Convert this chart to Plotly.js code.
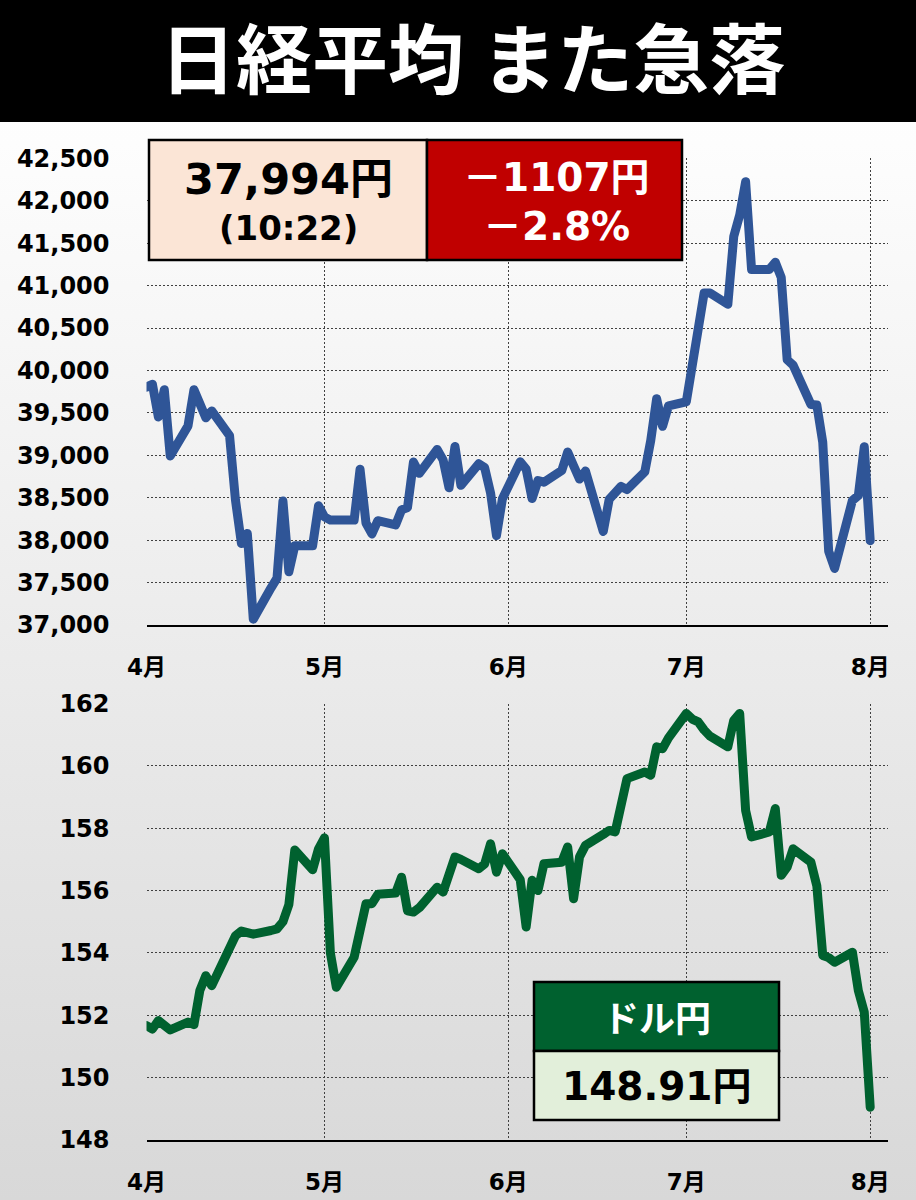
<!DOCTYPE html>
<html><head><meta charset="utf-8">
<script src="https://cdn.plot.ly/plotly-3.0.1.min.js"></script>
<style>
html,body{margin:0;padding:0;}
body{width:916px;height:1200px;background:linear-gradient(to bottom,#ffffff 0%,#fdfdfd 12%,#d8d8d8 100%);}
#chart{width:916px;height:1200px;}
.scatterlayer path.js-line{stroke-linejoin:round;stroke-linecap:round;}
</style></head><body><div id="chart"></div>
<script>
// Weekday dates (Japanese holidays carry the previous Nikkei close)
const dates = [
'2024-04-01','2024-04-02','2024-04-03','2024-04-04','2024-04-05','2024-04-08','2024-04-09','2024-04-10','2024-04-11','2024-04-12',
'2024-04-15','2024-04-16','2024-04-17','2024-04-18','2024-04-19','2024-04-22','2024-04-23','2024-04-24','2024-04-25','2024-04-26',
'2024-04-29','2024-04-30',
'2024-05-01','2024-05-02','2024-05-03','2024-05-06','2024-05-07','2024-05-08','2024-05-09','2024-05-10','2024-05-13','2024-05-14',
'2024-05-15','2024-05-16','2024-05-17','2024-05-20','2024-05-21','2024-05-22','2024-05-23','2024-05-24','2024-05-27','2024-05-28',
'2024-05-29','2024-05-30','2024-05-31',
'2024-06-03','2024-06-04','2024-06-05','2024-06-06','2024-06-07','2024-06-10','2024-06-11','2024-06-12','2024-06-13','2024-06-14',
'2024-06-17','2024-06-18','2024-06-19','2024-06-20','2024-06-21','2024-06-24','2024-06-25','2024-06-26','2024-06-27','2024-06-28',
'2024-07-01','2024-07-02','2024-07-03','2024-07-04','2024-07-05','2024-07-08','2024-07-09','2024-07-10','2024-07-11','2024-07-12',
'2024-07-15','2024-07-16','2024-07-17','2024-07-18','2024-07-19','2024-07-22','2024-07-23','2024-07-24','2024-07-25','2024-07-26',
'2024-07-29','2024-07-30','2024-07-31',
'2024-08-01'
];
const nikkei = [
39803,39838,39451,39773,38992,39347,39773,39581,39442,39523,
39232,38471,37961,38079,37068,37438,37552,38460,37628,37934,
37934,38405,
38274,38236,38236,38236,38835,38202,38073,38229,38179,38356,
38385,38920,38787,39069,38946,38617,39103,38646,38900,38855,
38556,38054,38487,
38923,38837,38490,38703,38683,38820,39038,38876,38720,38814,
38102,38482,38570,38633,38596,38804,39173,39667,39341,39583,
39631,40074,40580,40913,40912,40780,41580,41831,42224,41190,
41190,41275,41097,40126,40063,39599,39594,39154,37869,37667,
38468,38525,39101,
37994
];
const usdjpy = [
151.67,151.56,151.83,151.67,151.53,151.78,151.70,152.80,153.27,152.95,
154.20,154.55,154.70,154.65,154.60,154.72,154.77,155.00,155.55,157.30,
156.67,157.34,
157.69,154.00,152.90,153.86,154.60,155.58,155.58,155.88,155.92,156.43,
155.35,155.31,155.45,156.11,155.95,156.50,157.08,157.00,156.70,156.85,
157.50,156.59,157.18,
156.35,154.83,156.33,156.00,156.86,156.91,157.40,155.74,157.08,157.45,
157.80,157.93,157.88,158.80,159.59,159.80,159.70,160.61,160.55,160.90,
161.68,161.50,161.41,161.15,160.95,160.61,161.46,161.68,158.57,157.72,
157.88,158.63,156.49,156.75,157.34,156.91,156.15,153.92,153.85,153.70,
154.02,152.79,152.10,
149.05
];
const monthTicks = ['2024-04-01','2024-05-01','2024-06-01','2024-07-01','2024-08-01'];
const monthLabels = ['4月','5月','6月','7月','8月'];
const titleText = '日経平均 また急落';
const nikkeiPrice = '37,994円';
const nikkeiTime = '(10:22)';
const nikkeiChange = '－1107円';
const nikkeiPct = '－2.8%';
const fxLabel = 'ドル円';
const fxPrice = '148.91円';

const W = 916, H = 1200;
const px = x => x / W;
const py = y => 1 - y / H;
const NUM = 'DejaVu Sans, "Noto Sans CJK JP", sans-serif';
const JP = '"Noto Sans CJK JP", sans-serif';
const GRID = '#404040';

const xBase = {
  type: 'date', domain: [px(146.5), px(888)], range: ['2024-04-01', '2024-08-04'],
  tickvals: monthTicks, ticktext: monthLabels, ticks: '', ticklabelstandoff: 20,
  tickfont: {family: NUM, size: 23, color: '#000', weight: 700},
  showgrid: true, gridcolor: GRID, gridwidth: 1, griddash: '2px,2px',
  showline: true, linecolor: '#000', linewidth: 2, zeroline: false, fixedrange: true
};
const yBase = {
  ticks: '', ticklabelstandoff: 36,
  tickfont: {family: NUM, size: 24, color: '#000', weight: 700},
  showgrid: true, gridcolor: GRID, gridwidth: 1, griddash: '2px,2px',
  showline: false, zeroline: false, fixedrange: true
};

const traces = [
  {x: dates, y: nikkei, xaxis: 'x', yaxis: 'y', mode: 'lines', type: 'scatter',
   line: {color: '#2f5597', width: 9}, hoverinfo: 'skip', showlegend: false},
  {x: dates, y: usdjpy, xaxis: 'x2', yaxis: 'y2', mode: 'lines', type: 'scatter',
   line: {color: '#00612f', width: 9}, hoverinfo: 'skip', showlegend: false}
];

const rect = (x0, y0, x1, y1, fill, lw) => ({
  type: 'rect', xref: 'paper', yref: 'paper', x0: px(x0), x1: px(x1), y0: py(y1), y1: py(y0),
  fillcolor: fill, line: {color: '#000', width: lw}, layer: 'above'
});
const ann = (x, y, text, family, size, color) => ({
  xref: 'paper', yref: 'paper', x: px(x), y: py(y), xanchor: 'center', yanchor: 'middle',
  text: text, showarrow: false, font: {family: family, size: size, color: color, weight: 700}
});

const layout = {
  width: W, height: H, margin: {l: 0, r: 0, t: 0, b: 0},
  paper_bgcolor: 'rgba(0,0,0,0)', plot_bgcolor: 'rgba(0,0,0,0)',
  xaxis: Object.assign({}, xBase, {anchor: 'y'}),
  yaxis: Object.assign({}, yBase, {domain: [py(625), py(158.3)], range: [37000, 42500], dtick: 500, tick0: 37000, tickformat: ',', anchor: 'x'}),
  xaxis2: Object.assign({}, xBase, {anchor: 'y2'}),
  yaxis2: Object.assign({}, yBase, {domain: [py(1140), py(703.5)], range: [148, 162], dtick: 2, tick0: 148, anchor: 'x2'}),
  shapes: [
    {type: 'rect', xref: 'paper', yref: 'paper', x0: 0, x1: 1, y0: py(122), y1: 1, fillcolor: '#000', line: {width: 0}, layer: 'above'},
    rect(149, 140, 427, 260, '#fbe5d6', 2.5),
    rect(427, 140, 682, 260, '#c00000', 2.5),
    rect(534, 982, 779, 1051, '#00612f', 2.5),
    rect(534, 1051, 779, 1120, '#e2efda', 2.5)
  ],
  annotations: [
    ann(472, 55, titleText, JP, 76, '#fff'),
    ann(288, 179, nikkeiPrice, NUM, 43, '#000'),
    ann(288, 228, nikkeiTime, NUM, 34, '#000'),
    ann(556, 178, nikkeiChange, NUM, 39, '#fff'),
    ann(556, 226, nikkeiPct, NUM, 39, '#fff'),
    ann(657, 1016, fxLabel, JP, 36, '#fff'),
    ann(657, 1086, fxPrice, NUM, 39, '#000')
  ]
};

Plotly.newPlot('chart', traces, layout, {staticPlot: true, displayModeBar: false});
</script>
</body></html>
